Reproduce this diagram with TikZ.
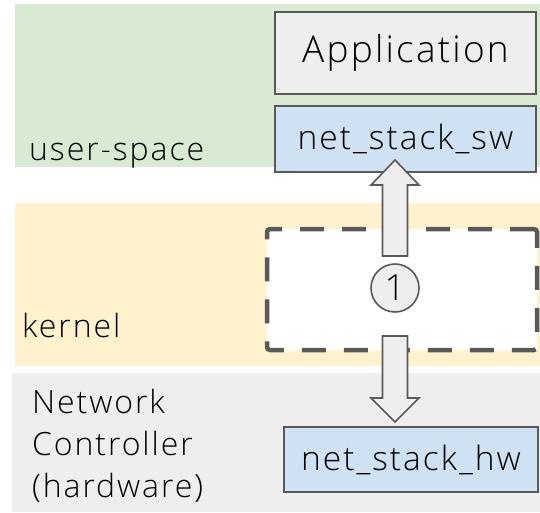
\documentclass[tikz,border=0pt]{standalone}
\usepackage{fontspec}
\IfFontExistsTF{Open Sans Light}
  {\setmainfont{Open Sans Light}[LetterSpace=6]}
  {\setmainfont{Lato}[UprightFont={* Light}, LetterSpace=6]}
\definecolor{usergreen}{HTML}{D9EAD3}
\definecolor{kernelyellow}{HTML}{FFF2CC}
\definecolor{hwgrey}{HTML}{EEEEEE}
\definecolor{boxblue}{HTML}{CFE2F3}
\definecolor{edgegrey}{HTML}{595959}
\tikzset{
  bandlabel/.style={anchor=base west, inner sep=0pt, font=\fontsize{32}{42}\selectfont, align=left},
  module/.style={draw=edgegrey, line width=1.6pt, fill=#1, inner sep=0pt, font=\fontsize{33.5}{36}\selectfont},
  blockarrow/.style={draw=edgegrey, line width=1.6pt, fill=hwgrey, line join=miter},
}
\begin{document}
\begin{tikzpicture}[x=1pt, y=-1pt]
  \useasboundingbox (0,0) rectangle (540,512);
  % layer bands
  \fill[usergreen] (15,4) rectangle (540,167);
  \fill[kernelyellow] (15,203) rectangle (540,366);
  \fill[hwgrey] (12,373) rectangle (540,512);
  % layer labels (base of a multi-line node is its last line)
  \node[bandlabel] (lbluser) at (29,160) {user-space};
  \node[bandlabel] (lblkernel) at (22,337) {kernel};
  \node[bandlabel] (lblhw) at (32,497) {Network\\Controller\\(hardware)};
  % modules
  \node[module=hwgrey, minimum width=261pt, minimum height=82pt,
        font=\fontsize{37}{40}\selectfont] (app) at (405.5,53) {Application};
  \node[module=boxblue, minimum width=261pt, minimum height=66pt] (sw) at (405.5,139) {net\_stack\_sw};
  \node[module=boxblue, minimum width=254pt, minimum height=65pt] (hw) at (411,459.5) {net\_stack\_hw};
  % kernel region
  \node[draw=edgegrey, fill=white, line width=4.5pt, dash pattern=on 24pt off 18pt,
        rounded corners=3pt, minimum width=270pt, minimum height=121pt, inner sep=0pt]
        (kbox) at (402,289.5) {};
  % arrow from the kernel up to user-space
  \coordinate (upbase) at (395,256);
  \coordinate (uptip) at (395,160);
  \draw[blockarrow] ([xshift=-12.5pt]upbase) -- ([xshift=-12.5pt]upbase |- 0,185)
    -- ([xshift=-24pt]upbase |- 0,185) -- (uptip) -- ([xshift=24pt]upbase |- 0,185)
    -- ([xshift=12.5pt]upbase |- 0,185) -- ([xshift=12.5pt]upbase) -- cycle;
  % arrow from the kernel down to the controller
  \coordinate (dnbase) at (395,336);
  \coordinate (dntip) at (395,422);
  \draw[blockarrow] ([xshift=-12.5pt]dnbase) -- ([xshift=-12.5pt]dnbase |- 0,398)
    -- ([xshift=-24pt]dnbase |- 0,398) -- (dntip) -- ([xshift=24pt]dnbase |- 0,398)
    -- ([xshift=12.5pt]dnbase |- 0,398) -- ([xshift=12.5pt]dnbase) -- cycle;
  % step marker
  \node[circle, draw=edgegrey, line width=1.6pt, fill=hwgrey, minimum size=48pt, inner sep=0pt,
        font=\fontsize{36}{36}\selectfont] (step1) at (395,288) {1};
\end{tikzpicture}
\end{document}
